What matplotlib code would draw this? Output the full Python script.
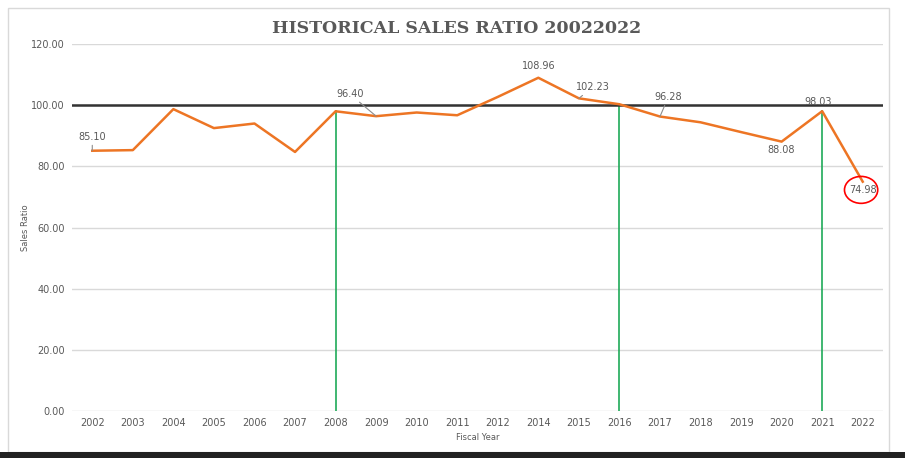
import matplotlib.pyplot as plt
from matplotlib.patches import Ellipse, Rectangle

# data
years = ["2002", "2003", "2004", "2005", "2006", "2007", "2008", "2009", "2010", "2011",
         "2012", "2014", "2015", "2016", "2017", "2018", "2019", "2020", "2021", "2022"]
ratios = [85.10, 85.30, 98.70, 92.50, 94.00, 84.70, 98.00, 96.40, 97.60, 96.70,
          102.70, 108.96, 102.23, 100.30, 96.28, 94.40, 91.20, 88.08, 98.03, 74.98]
drop_years = ["2008", "2016", "2021"]
target = 100.0

# labelled points: year -> (dx, dy in points, leader line?)
labels = {
    "2002": (0, 10, True),
    "2009": (-19, 16, True),
    "2014": (0, 8.5, False),
    "2015": (10, 8, True),
    "2017": (6, 14, True),
    "2020": (0, -6, False),
    "2021": (-3, 6.5, False),
    "2022": (0, -6, False),
}

orange = "#ED7524"
grey = "#595959"

fig = plt.figure(figsize=(9.05, 4.58), dpi=100)
fig.patches.append(Rectangle((8 / 905, 6 / 458), 881 / 905, 444 / 458, transform=fig.transFigure,
                             fill=False, edgecolor="#d9d9d9", linewidth=1))
fig.patches.append(Rectangle((0, 0), 1, 6 / 458, transform=fig.transFigure,
                             facecolor="#222222", edgecolor="none"))

ax = fig.add_axes([72 / 905, 1 - 411 / 458, 811 / 905, 367 / 458])
x = list(range(len(years)))

ax.set_ylim(0, 120)
ax.set_xlim(-0.5, len(years) - 0.5)
ax.set_yticks(range(0, 121, 20))
ax.set_yticklabels([f"{v:.2f}" for v in range(0, 121, 20)])
ax.set_xticks(x)
ax.set_xticklabels(years)
ax.grid(axis="y", color="#d9d9d9", linewidth=1)
ax.set_axisbelow(True)
for s in ax.spines.values():
    s.set_visible(False)
ax.tick_params(length=0, labelsize=7, colors=grey, pad=5)

ax.axhline(target, color="#333333", linewidth=1.8, zorder=3)

for yr in drop_years:
    i = years.index(yr)
    ax.plot([i, i], [0, ratios[i]], color="#1FAA59", linewidth=1.2, zorder=2)

ax.plot(x, ratios, color=orange, linewidth=1.8, zorder=4)

for yr, (dx, dy, leader) in labels.items():
    i = years.index(yr)
    ax.annotate(f"{ratios[i]:.2f}", (i, ratios[i]), xytext=(dx, dy), textcoords="offset points",
                ha="center", va="center", fontsize=7, color=grey, zorder=6,
                arrowprops=dict(arrowstyle="-", color="#8c8c8c", lw=0.8, shrinkA=0.5, shrinkB=0) if leader else None)

# red circle around the last value
i = years.index("2022")
ax.add_patch(Ellipse((i - 0.04, 72.3), 0.82, 8.8, fill=False, edgecolor="red", linewidth=1.2,
                     zorder=5, clip_on=False))

ax.set_xlabel("Fiscal Year", fontsize=6, color=grey, labelpad=4)
ax.set_ylabel("Sales Ratio", fontsize=6, color=grey)
ax.yaxis.set_label_coords(-0.052, 0.5)

fig.text(0.505, 0.938, "HISTORICAL SALES RATIO 20022022", ha="center", va="center",
         fontsize=12.5, fontweight="bold", color=grey, family="DejaVu Serif")

fig.savefig("out.png", dpi=100)
